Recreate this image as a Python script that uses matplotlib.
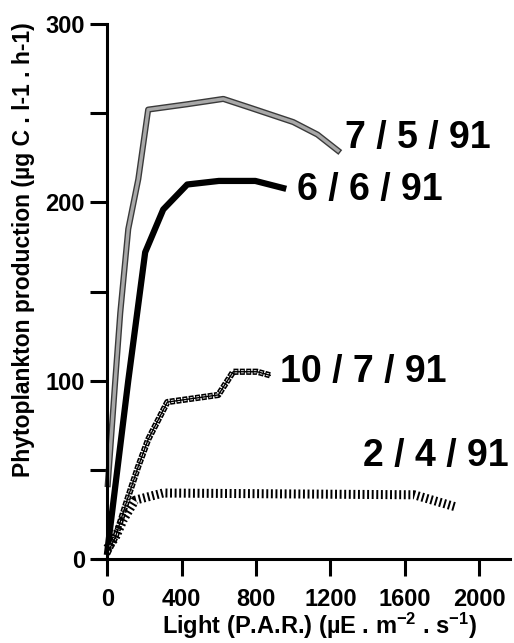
import matplotlib
matplotlib.use('Agg')
import matplotlib.pyplot as plt

plt.rcParams['font.family'] = ['Liberation Sans', 'DejaVu Sans']
plt.rcParams['font.weight'] = 'bold'
plt.rcParams['mathtext.fontset'] = 'custom'
plt.rcParams['mathtext.rm'] = 'Liberation Sans:bold'
plt.rcParams['mathtext.it'] = 'Liberation Sans:bold'
plt.rcParams['mathtext.bf'] = 'Liberation Sans:bold'
plt.rcParams['lines.scale_dashes'] = False

# light (P.A.R.) vs production
x_0705 = [3, 43, 70, 113, 167, 220, 430, 624, 770, 1000, 1130, 1240]
y_0705 = [42, 100, 138, 185, 213, 252, 255, 258, 253, 245, 238, 229]

x_0606 = [0, 113, 204, 301, 430, 600, 796, 946]
y_0606 = [4, 100, 172, 196, 210, 212, 212, 208]

x_1007 = [0, 43, 113, 167, 220, 323, 597, 677, 806, 876]
y_1007 = [3, 12, 35, 52, 67, 88, 92, 105, 105, 103]

x_0204 = [0, 43, 86, 150, 300, 1650, 1880]
y_0204 = [6, 12, 22, 33, 37, 36, 29]

labels = ['7 / 5 / 91', '6 / 6 / 91', '10 / 7 / 91', '2 / 4 / 91']
label_x = [1280, 1022, 930, 1376]
label_y = [236, 207, 105, 58]

x_ticks = [0, 400, 800, 1200, 1600, 2000]
y_ticks = [0, 50, 100, 150, 200, 250, 300]
y_ticklabels = ['0', '', '100', '', '200', '', '300']

fig = plt.figure(figsize=(5.14, 6.43), dpi=100)
ax = fig.add_axes([97 / 514, 1 - 559 / 643, 413 / 514, 535 / 643])

# 7/5/91 : grey stippled band
ax.plot(x_0705, y_0705, color='#3a3a3a', lw=4.4, clip_on=False)
ax.plot(x_0705, y_0705, color='#a8a8a8', lw=2.4, clip_on=False)

# 6/6/91 : thick black
ax.plot(x_0606, y_0606, color='black', lw=4.5, clip_on=False)

# 10/7/91 : chain of small boxes
ax.plot(x_1007, y_1007, color='black', lw=4.5, linestyle=(0, (3.6, 1.0)),
        dash_capstyle='butt', clip_on=False)
ax.plot(x_1007, y_1007, color='white', lw=2.2, linestyle=(3.8, (2.0, 2.6)),
        dash_capstyle='butt', clip_on=False)
ax.plot(x_1007, y_1007, color='black', lw=1.0, clip_on=False)

# 2/4/91 : vertical hatch bars
ax.plot(x_0204, y_0204, color='black', lw=6.5, linestyle=(0, (1.4, 1.9)),
        dash_capstyle='butt', clip_on=False)

for s, lx, ly in zip(labels, label_x, label_y):
    ax.text(lx, ly, s, fontsize=27, fontweight='bold', va='center', ha='left')

ax.set_xlim(-55, 2165)
ax.set_ylim(0, 300)
ax.spines['left'].set_position(('data', 0))
ax.spines['top'].set_visible(False)
ax.spines['right'].set_visible(False)
for sp in ['left', 'bottom']:
    ax.spines[sp].set_linewidth(2.2)

ax.set_xticks(x_ticks)
ax.set_yticks(y_ticks)
ax.set_yticklabels(y_ticklabels)
ax.tick_params(axis='both', direction='out', length=12, width=2.2, labelsize=17)
ax.tick_params(axis='x', pad=9)
ax.tick_params(axis='y', pad=4)

fig.text(24 / 514, 1 - 250 / 643, 'Phytoplankton production (µg C . l-1 . h-1)',
         rotation=90, fontsize=16.5, fontweight='bold', ha='center', va='center')
fig.text(320 / 514, 1 - 626 / 643, r'Light (P.A.R.) (µE . m$^{-2}$ . s$^{-1}$)',
         fontsize=17, fontweight='bold', ha='center', va='center')

fig.savefig('out.png', dpi=100)
